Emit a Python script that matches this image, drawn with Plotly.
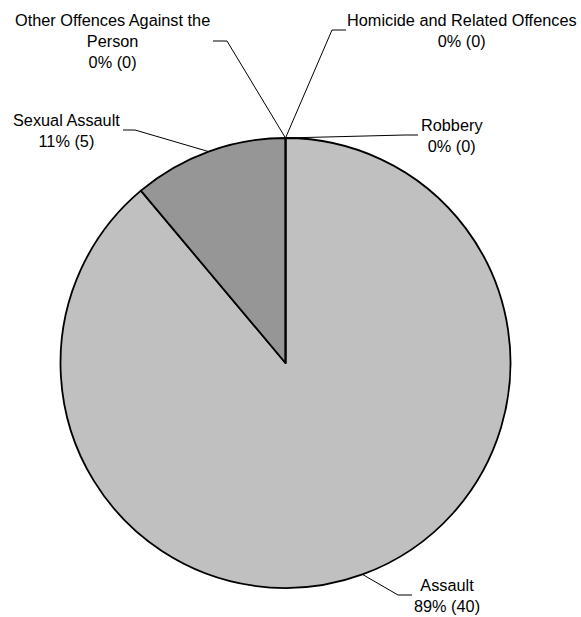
import math
import plotly.graph_objects as go

# ---- data ----
categories = ["Homicide and Related Offences", "Robbery", "Assault",
              "Sexual Assault", "Other Offences Against the Person"]
display_names = ["Homicide and Related Offences", "Robbery", "Assault",
                 "Sexual Assault", "Other Offences Against the<br>Person"]
counts = [0, 0, 40, 5, 0]
colors = ["#808080", "#A0A0A0", "#C0C0C0", "#969696", "#DDDDDD"]

W, H = 581, 617
# pie geometry (pixels)
CX, CY, R = 285.5, 363.0, 225.0

# label placement (pixel centre of text block) and leader elbow (start, end of short horizontal)
label_pos = [(462, 30.5), (452, 135.5), (447, 595.5), (66, 130.5), (112, 41)]
elbows = [((346, 30), (332, 30)), ((418, 135), (405, 135)), ((412, 595), (398, 595)),
          ((123, 130), (135, 130)), ((213, 41), (227, 41))]


def px(x):
    return x / W


def py(y):
    return 1 - y / H


total = sum(counts)
fig = go.Figure(go.Pie(
    labels=categories, values=counts, sort=False, direction="clockwise", rotation=0,
    marker=dict(colors=colors, line=dict(color="black", width=1.8)),
    textinfo="none", hoverinfo="label+value+percent", showlegend=False,
    domain=dict(x=[px(CX - R), px(CX + R)], y=[py(CY + R), py(CY - R)]),
))

shapes = []
annotations = []
cum = 0
for name, disp, v, (lx, ly), (e0, e1) in zip(categories, display_names, counts, label_pos, elbows):
    mid = (cum + v / 2) / total * 2 * math.pi
    cum += v
    ex = CX + R * math.sin(mid)
    ey = CY - R * math.cos(mid)
    pct = round(100 * v / total)
    annotations.append(dict(
        x=px(lx), y=py(ly), xref="paper", yref="paper", xanchor="center", yanchor="middle",
        text=f"{disp}<br>{pct}% ({v})", showarrow=False, align="center",
        font=dict(family="Arial, Liberation Sans, sans-serif", size=16.3, color="black")))
    shapes.append(dict(type="line", xref="paper", yref="paper",
                       x0=px(e0[0]), y0=py(e0[1]), x1=px(e1[0]), y1=py(e1[1]),
                       line=dict(color="black", width=1)))
    shapes.append(dict(type="line", xref="paper", yref="paper",
                       x0=px(e1[0]), y0=py(e1[1]), x1=px(ex), y1=py(ey),
                       line=dict(color="black", width=1)))

fig.update_layout(
    width=W, height=H, margin=dict(l=0, r=0, t=0, b=0),
    paper_bgcolor="white", plot_bgcolor="white",
    shapes=shapes, annotations=annotations,
)
fig.write_html("out.html", config={"displayModeBar": False},
               post_script="document.body.style.margin='0';document.body.style.overflow='hidden';")
